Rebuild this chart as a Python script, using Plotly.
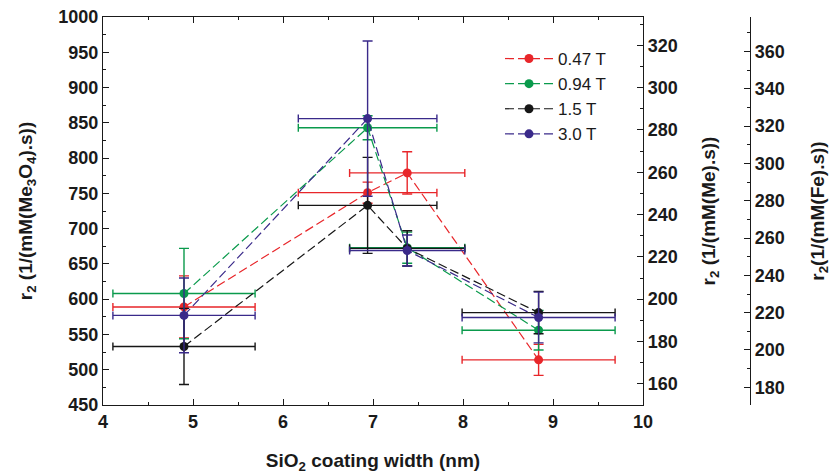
import plotly.graph_objects as go

# Data
x_nm = [4.9, 6.94, 7.38, 8.84]
x_err = [0.79, 0.77, 0.64, 0.85]

series_names = ["0.47 T", "0.94 T", "1.5 T", "3.0 T"]
r2_047 = [589, 751, 779, 514]
r2_094 = [608, 843, 673, 556]
r2_15 = [533, 733, 672, 581]
r2_30 = [577, 856, 669, 574]
err_047 = [44, 15, 30, 22]
err_094 = [64, 17, 22, 28]
err_15 = [54, 68, 25, 30]
err_30 = [53, 110, 22, 36]

colors = ["#e8262a", "#0a9a4c", "#161616", "#3a2a8a"]

values = [r2_047, r2_094, r2_15, r2_30]
errors = [err_047, err_094, err_15, err_30]

FONT = "Liberation Sans, Arial, sans-serif"

fig = go.Figure()
for name, vals, errs, col in zip(series_names, values, errors, colors):
    fig.add_trace(go.Scatter(
        x=x_nm, y=vals, name=name, mode="lines+markers",
        line=dict(color=col, width=1.2, dash="9px,4px"),
        marker=dict(color=col, size=9),
        error_y=dict(type="data", array=errs, visible=True, color=col, thickness=1.4, width=5),
        error_x=dict(type="data", array=x_err, visible=True, color=col, thickness=1.4, width=4),
    ))

# dummy traces to activate extra axes
fig.add_trace(go.Scatter(x=[None], y=[None], yaxis="y2", showlegend=False, hoverinfo="skip"))
fig.add_trace(go.Scatter(x=[None], y=[None], yaxis="y3", showlegend=False, hoverinfo="skip"))

L, R_main, R_fe, T, B = 103, 643, 750, 17, 405
W, H = 832, 474
dom_end = (R_main - L) / (R_fe - L)

tickfont = dict(family=FONT, size=18, color="#1a1a1a", weight="bold")
titlefont = dict(family=FONT, size=19, color="#1a1a1a", weight="bold")
axcommon = dict(showgrid=False, zeroline=False, showline=True, linecolor="#1a1a1a", linewidth=1.3,
                ticks="inside", ticklen=6, tickcolor="#1a1a1a", tickwidth=1.2, tickfont=tickfont,
                automargin=False)

fig.update_layout(
    width=W, height=H,
    margin=dict(l=L, r=W - R_fe, t=T, b=H - B),
    paper_bgcolor="white", plot_bgcolor="white",
    showlegend=True,
    legend=dict(x=(500 - L) / (R_fe - L), y=1 - (41 - T) / (B - T), xanchor="left", yanchor="top",
                bgcolor="rgba(0,0,0,0)", font=dict(family=FONT, size=17, color="#1a1a1a"),
                itemwidth=48, tracegroupgap=0),
    xaxis=dict(domain=[0, dom_end], range=[4, 10], dtick=1, mirror="ticks",
               minor=dict(dtick=0.5, ticks="inside", ticklen=3, tickcolor="#1a1a1a"),
               title=dict(text="SiO<sub>2</sub> coating width (nm)", font=titlefont, standoff=24),
               **axcommon),
    yaxis=dict(range=[450, 1000], dtick=50,
               minor=dict(dtick=25, ticks="inside", ticklen=3, tickcolor="#1a1a1a"),
               title=dict(text="r<sub>2</sub> (1/(mM(Me<sub>3</sub>O<sub>4</sub>).s))", font=titlefont, standoff=20),
               **axcommon),
    yaxis2=dict(range=[150, 1000 / 3], dtick=20, overlaying="y", side="right", anchor="x",
                minor=dict(dtick=10, ticks="inside", ticklen=3, tickcolor="#1a1a1a"),
                title=dict(text="r<sub>2</sub> (1/(mM(Me).s))", font=titlefont, standoff=24),
                **axcommon),
    yaxis3=dict(range=[170.5, 378.5], dtick=20, overlaying="y", side="right", anchor="free", position=1,
                minor=dict(dtick=10, ticks="inside", ticklen=3, tickcolor="#1a1a1a"),
                title=dict(text="r<sub>2</sub>(1/(mM(Fe).s))", font=titlefont, standoff=26),
                **axcommon),
)

fig.write_html("out.html")
